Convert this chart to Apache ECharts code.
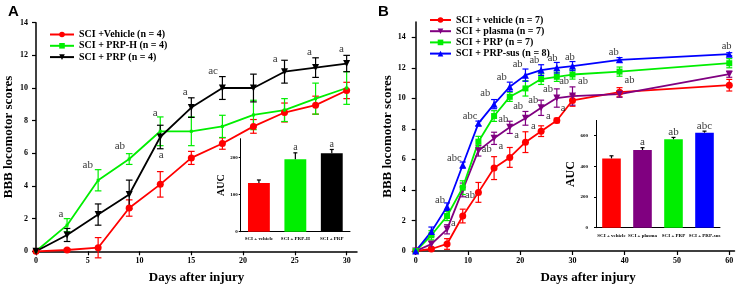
<!DOCTYPE html>
<html>
<head>
<meta charset="utf-8">
<script src="https://cdn.jsdelivr.net/npm/echarts@6/dist/echarts.min.js"></script>
<style>
html,body{margin:0;padding:0;background:#fff}
#chart{width:743px;height:287px}
</style>
</head>
<body>
<div id="chart"></div>
<script>
// panel A data
var daysA = [0, 3, 6, 9, 12, 15, 18, 21, 24, 27, 30];
var vehA = [0, 0.08, 0.22, 2.65, 4.1, 5.72, 6.6, 7.65, 8.5, 8.95, 9.85];
var vehAErr = [0, 0.08, 0.62, 0.5, 0.78, 0.4, 0.35, 0.42, 0.58, 0.55, 0.5];
var prphA = [0, 1.6, 4.35, 5.65, 7.35, 7.35, 7.65, 8.35, 8.65, 9.35, 10.0];
var prphAErr = [0, 0.4, 0.65, 0.33, 0.88, 0.88, 0.68, 0.9, 0.7, 0.95, 1.0];
var prpA = [0, 1.0, 2.25, 3.48, 7.0, 8.8, 10.0, 10.0, 11.0, 11.25, 11.5];
var prpAErr = [0, 0.4, 0.65, 0.88, 0.72, 0.6, 0.7, 0.85, 0.7, 0.6, 0.5];
var notesA = [[2.4, 2.3, 'a'], [5.0, 5.25, 'ab'], [8.1, 6.42, 'ab'], [11.5, 8.48, 'a'], [12.1, 5.9, 'a'],
    [14.4, 9.75, 'a'], [17.1, 11.02, 'ac'], [23.1, 11.8, 'a'], [26.4, 12.18, 'a'], [29.5, 12.39, 'a']];

// panel B data
var daysB = [0, 3, 6, 9, 12, 15, 18, 21, 24, 27, 30, 39, 60];
var vehB = [0, 0.13, 0.46, 2.29, 3.84, 5.43, 6.13, 7.13, 7.85, 8.55, 9.86, 10.4, 10.86];
var vehBErr = [0, 0.1, 0.35, 0.45, 0.65, 0.75, 0.65, 0.68, 0.35, 0.15, 0.38, 0.3, 0.38];
var plasB = [0, 0.45, 1.42, 4.0, 6.57, 7.38, 8.1, 8.69, 9.38, 10.02, 10.15, 10.27, 11.58];
var plasBErr = [0, 0.2, 0.3, 0.45, 0.35, 0.4, 0.4, 0.45, 0.5, 0.6, 0.6, 0.2, 0.2];
var prpB = [0, 1.03, 2.29, 4.15, 7.16, 8.84, 10.1, 10.65, 11.26, 11.41, 11.56, 11.75, 12.3];
var prpBErr = [0, 0.3, 0.3, 0.45, 0.35, 0.35, 0.3, 0.5, 0.35, 0.3, 0.3, 0.3, 0.3];
var susB = [0, 1.27, 2.9, 5.63, 8.36, 9.62, 10.76, 11.52, 11.85, 12.0, 12.11, 12.52, 12.89];
var susBErr = [0, 0.3, 0.25, 0.2, 0.15, 0.3, 0.3, 0.4, 0.35, 0.35, 0.3, 0.15, 0.1];
var notesB = [[4.65, 3.3, 'ab'], [7.2, 1.85, 'a'], [7.4, 6.07, 'abc'], [10.4, 3.67, 'ab'], [10.4, 8.8, 'abc'],
    [13.6, 6.66, 'ab'], [13.3, 10.33, 'ab'], [16.76, 8.63, 'ab'], [16.3, 6.83, 'a'], [16.45, 11.36, 'ab'],
    [19.6, 9.46, 'ab'], [19.3, 7.6, 'a'], [19.5, 12.23, 'ab'], [22.5, 9.85, 'ab'], [22.5, 8.15, 'a'],
    [22.7, 12.5, 'ab'], [25.3, 10.6, 'ab'], [25.4, 8.85, 'a'], [26.2, 12.63, 'ab'], [28.4, 11.14, 'ab'],
    [28.2, 9.35, 'a'], [29.5, 12.7, 'ab'], [32.0, 11.1, 'ab'], [37.9, 13.0, 'ab'], [40.9, 11.16, 'ab'],
    [59.5, 13.39, 'ab'], [61.4, 11.97, 'a']];

// insets (AUC)
var aucCatsA = ['SCI + vehicle', 'SCI + PRP-H', 'SCI + PRP'];
var aucA = [131, 195, 211];
var aucAErr = [8, 17, 10];
var aucMarksA = ['', 'a', 'a'];
var aucCatsB = ['SCI + vehicle', 'SCI + plasma', 'SCI + PRP', 'SCI + PRP-sus'];
var aucB = [452, 507, 577, 620];
var aucBErr = [17, 15, 12, 10];
var aucMarksB = ['', 'a', 'ab', 'abc'];

var RED = '#ff0000', GREEN = '#00ee00', BLACK = '#000000', PURPLE = '#800080', BLUE = '#0000ff';
var serif = 'Liberation Serif';

function pairs(xs, ys) {
    return xs.map(function (x, i) { return [x, ys[i]]; });
}

// error bars (two sided, or only upward for the bar insets)
function errBars(ax, xs, ys, es, color, cap, upOnly) {
    var data = xs.map(function (x, i) { return [x, ys[i], es[i]]; });
    return {
        type: 'custom', xAxisIndex: ax, yAxisIndex: ax, data: data, z: 3, silent: true,
        itemStyle: { color: color },
        renderItem: function (params, api) {
            var x = api.value(0), y = api.value(1), e = api.value(2);
            if (!e) return null;
            var hi = api.coord([x, y + e]);
            var lo = upOnly ? api.coord([x, y]) : api.coord([x, y - e]);
            var st = { stroke: color, lineWidth: 1.2 };
            var kids = [
                { type: 'line', shape: { x1: hi[0], y1: hi[1], x2: lo[0], y2: lo[1] }, style: st },
                { type: 'line', shape: { x1: hi[0] - cap, y1: hi[1], x2: hi[0] + cap, y2: hi[1] }, style: st }
            ];
            if (!upOnly) kids.push({ type: 'line', shape: { x1: lo[0] - cap, y1: lo[1], x2: lo[0] + cap, y2: lo[1] }, style: st });
            return { type: 'group', children: kids };
        }
    };
}

function lineSer(name, ax, xs, ys, color, symbol, size, rot) {
    return {
        type: 'line', name: name, xAxisIndex: ax, yAxisIndex: ax, data: pairs(xs, ys),
        symbol: symbol, symbolSize: size, symbolRotate: rot || 0, showSymbol: true,
        lineStyle: { color: color, width: 1.8 }, itemStyle: { color: color }, z: 4
    };
}

function notes(ax, list, size) {
    return {
        type: 'scatter', xAxisIndex: ax, yAxisIndex: ax, data: list, symbolSize: 0, z: 5, silent: true,
        label: { show: true, position: 'inside', color: '#000', fontFamily: serif, fontSize: size,
            formatter: function (p) { return p.value[2]; } }
    };
}

function aucBars(ax, vals, colors) {
    return {
        type: 'bar', xAxisIndex: ax, yAxisIndex: ax, barWidth: '60%', z: 2,
        data: vals.map(function (v, i) { return { value: v, itemStyle: { color: colors[i] } }; })
    };
}

function aucNotes(ax, vals, errs, marks, size) {
    return {
        type: 'scatter', xAxisIndex: ax, yAxisIndex: ax, symbolSize: 0, silent: true,
        data: vals.map(function (v, i) { return [i, v + errs[i], marks[i]]; }),
        label: { show: true, position: 'top', distance: 0, color: '#000', fontFamily: serif, fontSize: size,
            formatter: function (p) { return p.value[2]; } }
    };
}

var axLine = { lineStyle: { color: '#000', width: 1.5 } };
var tickLbl = { color: '#000', fontFamily: serif, fontWeight: 'bold', fontSize: 8 };
var nameTxt = { color: '#000', fontFamily: serif, fontWeight: 'bold', fontSize: 13 };
var smallLbl = { color: '#000', fontFamily: serif, fontWeight: 'bold', fontSize: 5 };

var chart = echarts.init(document.getElementById('chart'), null, { renderer: 'canvas' });
chart.setOption({
    animation: false,
    backgroundColor: '#fff',
    title: [
        { text: 'A', left: 3, top: -1, textStyle: { fontFamily: 'Liberation Sans', fontWeight: 'bold', fontSize: 15, color: '#000' } },
        { text: 'B', left: 373, top: -1, textStyle: { fontFamily: 'Liberation Sans', fontWeight: 'bold', fontSize: 15, color: '#000' } }
    ],
    legend: [
        { data: ['SCI +Vehicle (n = 4)', 'SCI + PRP-H (n = 4)', 'SCI + PRP (n = 4)'], orient: 'vertical',
          left: 49, top: 29.5, itemWidth: 24, itemHeight: 7, itemGap: 1.3, padding: 0, selectedMode: false,
          textStyle: { fontFamily: serif, fontWeight: 'bold', fontSize: 10, color: '#000', lineHeight: 9 } },
        { data: ['SCI + vehicle (n = 7)', 'SCI + plasma (n = 7)', 'SCI + PRP (n = 7)', 'SCI + PRP-sus (n = 8)'], orient: 'vertical',
          left: 429, top: 15, itemWidth: 21, itemHeight: 7, itemGap: 1.2, padding: 0, selectedMode: false,
          textStyle: { fontFamily: serif, fontWeight: 'bold', fontSize: 10, color: '#000', lineHeight: 9 } }
    ],
    grid: [
        { left: 36, top: 22.7, right: 386, bottom: 35.7, outerBoundsMode: 'none' },
        { left: 415.7, top: 22, right: 8.5, bottom: 36, outerBoundsMode: 'none' },
        { left: 240.7, top: 138.7, right: 393, bottom: 55.3, outerBoundsMode: 'none' },
        { left: 596, top: 120.4, right: 23, bottom: 59.3, outerBoundsMode: 'none' }
    ],
    xAxis: [
        { type: 'value', gridIndex: 0, min: 0, max: 31, splitLine: { show: false }, axisLine: axLine,
          axisTick: { length: 4, lineStyle: { color: '#000', width: 1.2 }, customValues: [0, 5, 10, 15, 20, 25, 30] },
          axisLabel: Object.assign({ margin: 6, customValues: [0, 5, 10, 15, 20, 25, 30] }, tickLbl),
          name: 'Days after injury', nameLocation: 'middle', nameGap: 20, nameTextStyle: nameTxt },
        { type: 'value', gridIndex: 1, min: 0, max: 61, splitLine: { show: false }, axisLine: axLine,
          axisTick: { length: 4, lineStyle: { color: '#000', width: 1.2 }, customValues: [0, 10, 20, 30, 40, 50, 60] },
          axisLabel: Object.assign({ margin: 6, customValues: [0, 10, 20, 30, 40, 50, 60] }, tickLbl),
          name: 'Days after injury', nameLocation: 'middle', nameGap: 20,
          nameTextStyle: Object.assign({ padding: [0, 0, 0, 26] }, nameTxt) },
        { type: 'category', gridIndex: 2, data: aucCatsA, axisLine: { lineStyle: { color: '#000', width: 1 } },
          axisTick: { show: false }, axisLabel: Object.assign({ margin: 5, interval: 0 }, smallLbl) },
        { type: 'category', gridIndex: 3, data: aucCatsB, axisLine: { lineStyle: { color: '#000', width: 1 } },
          axisTick: { show: false }, axisLabel: Object.assign({ margin: 6, interval: 0 }, smallLbl) }
    ],
    yAxis: [
        { type: 'value', gridIndex: 0, min: 0, max: 14, interval: 2, splitLine: { show: false }, axisLine: axLine,
          axisTick: { length: 4, lineStyle: { color: '#000', width: 1.2 } },
          axisLabel: Object.assign({ margin: 8 }, tickLbl),
          name: 'BBB locomotor scores', nameLocation: 'middle', nameGap: 21, nameTextStyle: nameTxt },
        { type: 'value', gridIndex: 1, min: 0, max: 15, splitLine: { show: false }, axisLine: axLine,
          axisTick: { length: 4, lineStyle: { color: '#000', width: 1.2 }, customValues: [0, 2, 4, 6, 8, 10, 12, 14] },
          axisLabel: Object.assign({ margin: 10, customValues: [0, 2, 4, 6, 8, 10, 12, 14] }, tickLbl),
          name: 'BBB locomotor scores', nameLocation: 'middle', nameGap: 21, nameTextStyle: nameTxt },
        { type: 'value', gridIndex: 2, min: 0, max: 250, splitLine: { show: false },
          axisLine: { show: true, lineStyle: { color: '#000', width: 1 } },
          axisTick: { show: true, length: 2, lineStyle: { color: '#000' }, customValues: [0, 100, 200] },
          axisLabel: Object.assign({ margin: 3, customValues: [0, 100, 200] }, smallLbl),
          name: 'AUC', nameLocation: 'middle', nameGap: 12,
          nameTextStyle: { color: '#000', fontFamily: serif, fontWeight: 'bold', fontSize: 10 } },
        { type: 'value', gridIndex: 3, min: 0, max: 700, splitLine: { show: false },
          axisLine: { show: true, lineStyle: { color: '#000', width: 1 } },
          axisTick: { show: true, length: 2, lineStyle: { color: '#000' }, customValues: [0, 200, 400, 600] },
          axisLabel: Object.assign({ margin: 8, customValues: [0, 200, 400, 600] }, smallLbl),
          name: 'AUC', nameLocation: 'middle', nameGap: 14,
          nameTextStyle: { color: '#000', fontFamily: serif, fontWeight: 'bold', fontSize: 12 } }
    ],
    series: [
        // panel A
        errBars(0, daysA, vehA, vehAErr, RED, 3.3),
        errBars(0, daysA, prphA, prphAErr, GREEN, 3.3),
        errBars(0, daysA, prpA, prpAErr, BLACK, 3.3),
        lineSer('SCI +Vehicle (n = 4)', 0, daysA, vehA, RED, 'circle', 7),
        lineSer('SCI + PRP-H (n = 4)', 0, daysA, prphA, GREEN, 'rect', 3),
        lineSer('SCI + PRP (n = 4)', 0, daysA, prpA, BLACK, 'triangle', 7, 180),
        notes(0, notesA, 11),
        // panel B
        errBars(1, daysB, vehB, vehBErr, RED, 3),
        errBars(1, daysB, plasB, plasBErr, PURPLE, 3),
        errBars(1, daysB, prpB, prpBErr, GREEN, 3),
        errBars(1, daysB, susB, susBErr, BLUE, 3),
        lineSer('SCI + vehicle (n = 7)', 1, daysB, vehB, RED, 'circle', 7),
        lineSer('SCI + plasma (n = 7)', 1, daysB, plasB, PURPLE, 'triangle', 7, 180),
        lineSer('SCI + PRP (n = 7)', 1, daysB, prpB, GREEN, 'rect', 6),
        lineSer('SCI + PRP-sus (n = 8)', 1, daysB, susB, BLUE, 'triangle', 7),
        notes(1, notesB, 10.5),
        // insets
        aucBars(2, aucA, [RED, GREEN, BLACK]),
        errBars(2, [0, 1, 2], aucA, aucAErr, BLACK, 2, true),
        aucNotes(2, aucA, aucAErr, aucMarksA, 10),
        aucBars(3, aucB, [RED, PURPLE, GREEN, BLUE]),
        errBars(3, [0, 1, 2, 3], aucB, aucBErr, BLACK, 2, true),
        aucNotes(3, aucB, aucBErr, aucMarksB, 11)
    ]
});
</script>
</body>
</html>
